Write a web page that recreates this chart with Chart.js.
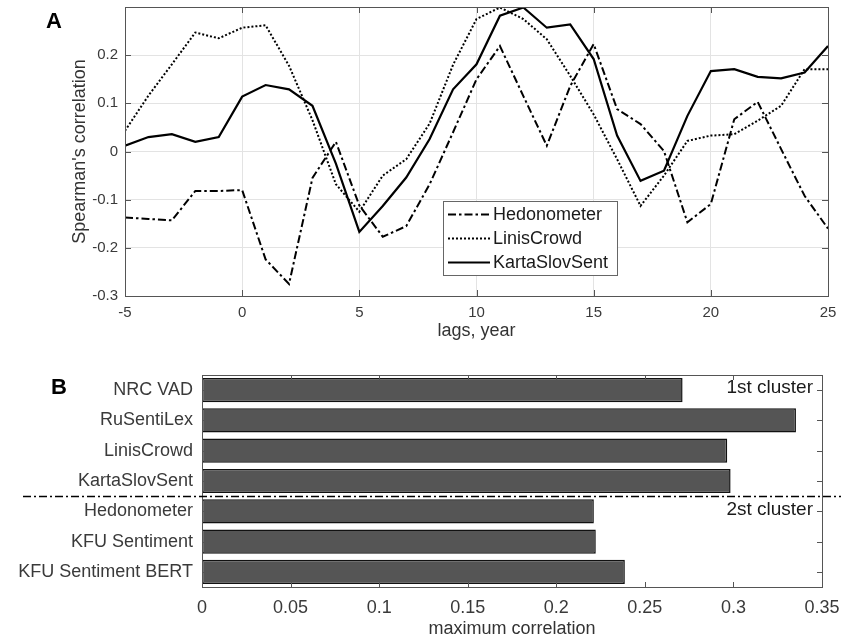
<!DOCTYPE html>
<html>
<head>
<meta charset="utf-8">
<script src="https://cdn.jsdelivr.net/npm/chart.js@4.4.1/dist/chart.umd.min.js"></script>
<style>
    html, body { margin: 0; padding: 0; background: #fff; }
    #panelA { position: absolute; left: 0; top: 0; width: 841px; height: 345px; }
    #panelB { position: absolute; left: 0; top: 345px; width: 841px; height: 299px; }
</style>
</head>
<body>
<div id="panelA"><canvas id="lagChart"></canvas></div>
<div id="panelB"><canvas id="maxChart"></canvas></div>
<script>
// Panel A data: correlation by lag
const lags = [-5, -4, -3, -2, -1, 0, 1, 2, 3, 4, 5, 6, 7, 8, 9, 10, 11, 12, 13, 14, 15, 16, 17, 18, 19, 20, 21, 22, 23, 24, 25];
const hedonometer = [-0.137, -0.140, -0.143, -0.082, -0.082, -0.080, -0.224, -0.275, -0.055, 0.020, -0.112, -0.177, -0.155, -0.068, 0.040, 0.150, 0.219, 0.115, 0.012, 0.136, 0.223, 0.088, 0.057, 0.001, -0.147, -0.109, 0.067, 0.103, 0.005, -0.092, -0.160];
const linisCrowd = [0.043, 0.116, 0.181, 0.247, 0.235, 0.257, 0.262, 0.178, 0.065, -0.068, -0.125, -0.050, -0.016, 0.058, 0.180, 0.275, 0.299, 0.275, 0.233, 0.157, 0.077, -0.016, -0.113, -0.050, 0.022, 0.033, 0.036, 0.064, 0.095, 0.171, 0.171];
const kartaSlovSent = [0.012, 0.030, 0.036, 0.020, 0.030, 0.114, 0.138, 0.129, 0.095, -0.025, -0.167, -0.113, -0.054, 0.026, 0.129, 0.181, 0.282, 0.299, 0.257, 0.264, 0.192, 0.033, -0.061, -0.040, 0.074, 0.167, 0.171, 0.155, 0.152, 0.164, 0.219];

// Panel B data: maximum correlation per lexicon
const lexicons = ['NRC VAD', 'RuSentiLex', 'LinisCrowd', 'KartaSlovSent', 'Hedonometer', 'KFU Sentiment', 'KFU Sentiment BERT'];
const maxCorrelation = [0.2713, 0.3353, 0.2965, 0.2984, 0.2212, 0.2223, 0.2387];
const clusterNames = ['1st cluster', '2st cluster'];
const clusterStart = [0, 4];

const FONT = '"Liberation Sans", Arial, Helvetica, sans-serif';
const TEXT_COLOR = '#3a3a3a';
const AXIS_COLOR = '#555';

Chart.defaults.font.family = FONT;
Chart.defaults.color = TEXT_COLOR;

function toPoints(values) {
    return lags.map((lag, i) => ({ x: lag, y: values[i] }));
}

function dropPadding(scale) {
    scale.paddingTop = 0;
    scale.paddingBottom = 0;
    scale.paddingLeft = 0;
    scale.paddingRight = 0;
}

// Box around the plot area plus MATLAB-like inward ticks
const axisFrame = {
    id: 'axisFrame',
    afterDraw(chart, args, opts) {
        const { ctx, chartArea: a, scales } = chart;
        const len = opts.tickLength;
        ctx.save();
        ctx.strokeStyle = AXIS_COLOR;
        ctx.lineWidth = 1;
        ctx.beginPath();
        scales.x.ticks.forEach((t, i) => {
            const px = Math.round(scales.x.getPixelForTick(i)) + 0.5;
            ctx.moveTo(px, a.bottom); ctx.lineTo(px, a.bottom - len);
            ctx.moveTo(px, a.top); ctx.lineTo(px, a.top + len);
        });
        scales.y.ticks.forEach((t, i) => {
            const py = Math.round(scales.y.getPixelForTick(i)) + 0.5;
            ctx.moveTo(a.left, py); ctx.lineTo(a.left + len, py);
            ctx.moveTo(a.right, py); ctx.lineTo(a.right - len, py);
        });
        ctx.stroke();
        ctx.strokeRect(Math.round(a.left) + 0.5, Math.round(a.top) + 0.5,
            Math.round(a.right - a.left), Math.round(a.bottom - a.top));
        ctx.restore();
    }
};

// Bold panel letter (A / B)
const panelLetter = {
    id: 'panelLetter',
    afterDraw(chart, args, opts) {
        const ctx = chart.ctx;
        ctx.save();
        ctx.fillStyle = '#000';
        ctx.font = 'bold 22px ' + FONT;
        ctx.textBaseline = 'alphabetic';
        ctx.fillText(opts.text, opts.x, opts.y);
        ctx.restore();
    }
};

// Legend drawn inside the plot area with a frame
const insideLegend = {
    id: 'insideLegend',
    afterDraw(chart, args, opts) {
        const { ctx, chartArea: a } = chart;
        const x0 = a.left + opts.offsetX;
        const y0 = a.top + opts.offsetY;
        ctx.save();
        ctx.fillStyle = '#fff';
        ctx.fillRect(x0, y0, opts.width, opts.height);
        ctx.strokeStyle = '#666';
        ctx.lineWidth = 1;
        ctx.strokeRect(Math.round(x0) + 0.5, Math.round(y0) + 0.5, opts.width, opts.height);
        ctx.font = '18px ' + FONT;
        ctx.textBaseline = 'middle';
        chart.data.datasets.forEach((ds, i) => {
            const y = Math.round(y0 + 13 + i * 24) + 0.5;
            ctx.strokeStyle = ds.borderColor;
            ctx.lineWidth = ds.borderWidth;
            ctx.setLineDash(ds.borderDash || []);
            ctx.beginPath();
            ctx.moveTo(x0 + 5, y);
            ctx.lineTo(x0 + 47, y);
            ctx.stroke();
            ctx.setLineDash([]);
            ctx.fillStyle = '#1a1a1a';
            ctx.fillText(ds.label, x0 + 50, y + 1);
        });
        ctx.restore();
    }
};

// Dash-dot separator between clusters and cluster captions
const clusterMarks = {
    id: 'clusterMarks',
    afterDraw(chart) {
        const { ctx, chartArea: a, scales } = chart;
        const y = scales.y;
        const sepY = Math.round((y.getPixelForValue(3) + y.getPixelForValue(4)) / 2) + 0.5;
        ctx.save();
        ctx.strokeStyle = '#000';
        ctx.lineWidth = 1.5;
        ctx.setLineDash([8, 3, 2, 3]);
        ctx.beginPath();
        ctx.moveTo(23, sepY);
        ctx.lineTo(chart.width, sepY);
        ctx.stroke();
        ctx.setLineDash([]);
        ctx.fillStyle = '#1a1a1a';
        ctx.font = '19px ' + FONT;
        ctx.textAlign = 'right';
        ctx.textBaseline = 'middle';
        clusterNames.forEach((name, i) => {
            ctx.fillText(name, a.right - 9, y.getPixelForValue(clusterStart[i]) - 2);
        });
        ctx.restore();
    }
};

function setupLagChart() {
    const ctx = document.getElementById('lagChart').getContext('2d');
    const lineBase = { borderColor: '#000', borderWidth: 2, pointRadius: 0, tension: 0, fill: false };

    new Chart(ctx, {
        type: 'line',
        data: {
            datasets: [
                { ...lineBase, label: 'Hedonometer', data: toPoints(hedonometer), borderDash: [8, 3, 2.5, 3] },
                { ...lineBase, label: 'LinisCrowd', data: toPoints(linisCrowd), borderDash: [2, 2] },
                { ...lineBase, label: 'KartaSlovSent', data: toPoints(kartaSlovSent), borderWidth: 2.2 }
            ]
        },
        options: {
            responsive: true,
            maintainAspectRatio: false,
            animation: false,
            layout: { padding: { left: 0, top: 7, right: 13, bottom: 0 } },
            plugins: {
                legend: { display: false },
                tooltip: { enabled: false },
                axisFrame: { tickLength: 6 },
                panelLetter: { text: 'A', x: 46, y: 28 },
                insideLegend: { offsetX: 318, offsetY: 194, width: 174, height: 74 }
            },
            scales: {
                x: {
                    type: 'linear',
                    min: -5,
                    max: 25,
                    ticks: { stepSize: 5, padding: 8, font: { size: 15 }, color: TEXT_COLOR },
                    grid: { color: '#e3e3e3', drawTicks: false },
                    border: { color: AXIS_COLOR },
                    title: { display: true, text: 'lags, year', color: '#333', font: { size: 18 }, padding: { top: 0, bottom: 3 } },
                    afterFit(scale) { scale.height = 49; dropPadding(scale); }
                },
                y: {
                    min: -0.3,
                    max: 0.3,
                    ticks: {
                        stepSize: 0.1,
                        padding: 7,
                        font: { size: 15 },
                        color: TEXT_COLOR,
                        callback: v => (Math.abs(v - 0.3) < 1e-9 ? '' : String(+v.toFixed(1)))
                    },
                    grid: { color: '#e3e3e3', drawTicks: false },
                    border: { color: AXIS_COLOR },
                    title: { display: true, text: "Spearman's correlation", color: '#333', font: { size: 18 }, padding: { top: 69, bottom: 0 } },
                    afterFit(scale) { scale.width = 125; dropPadding(scale); }
                }
            }
        },
        plugins: [axisFrame, panelLetter, insideLegend]
    });
}

function setupMaxChart() {
    const ctx = document.getElementById('maxChart').getContext('2d');

    new Chart(ctx, {
        type: 'bar',
        data: {
            labels: lexicons,
            datasets: [{
                data: maxCorrelation,
                backgroundColor: '#555555',
                borderColor: '#111',
                borderWidth: 1.5,
                borderSkipped: false,
                barPercentage: 0.8,
                categoryPercentage: 1
            }]
        },
        options: {
            indexAxis: 'y',
            responsive: true,
            maintainAspectRatio: false,
            animation: false,
            layout: { padding: { left: 0, top: 30, right: 19, bottom: 0 } },
            plugins: {
                legend: { display: false },
                tooltip: { enabled: false },
                axisFrame: { tickLength: 5 },
                panelLetter: { text: 'B', x: 51, y: 49 }
            },
            scales: {
                x: {
                    min: 0,
                    max: 0.35,
                    ticks: {
                        stepSize: 0.05,
                        padding: 10,
                        font: { size: 18 },
                        color: TEXT_COLOR,
                        callback: v => String(+v.toFixed(2))
                    },
                    grid: { display: false, drawTicks: false },
                    border: { color: AXIS_COLOR },
                    title: { display: true, text: 'maximum correlation', color: '#333', font: { size: 18 }, padding: { top: 0, bottom: 4 } },
                    afterFit(scale) { scale.height = 57; dropPadding(scale); }
                },
                y: {
                    ticks: { padding: 9, font: { size: 18 }, color: TEXT_COLOR },
                    grid: { display: false, drawTicks: false },
                    border: { color: AXIS_COLOR },
                    afterFit(scale) { scale.width = 202; dropPadding(scale); }
                }
            }
        },
        plugins: [axisFrame, panelLetter, clusterMarks]
    });
}

document.addEventListener('DOMContentLoaded', () => {
    setupLagChart();
    setupMaxChart();
});
</script>
</body>
</html>
